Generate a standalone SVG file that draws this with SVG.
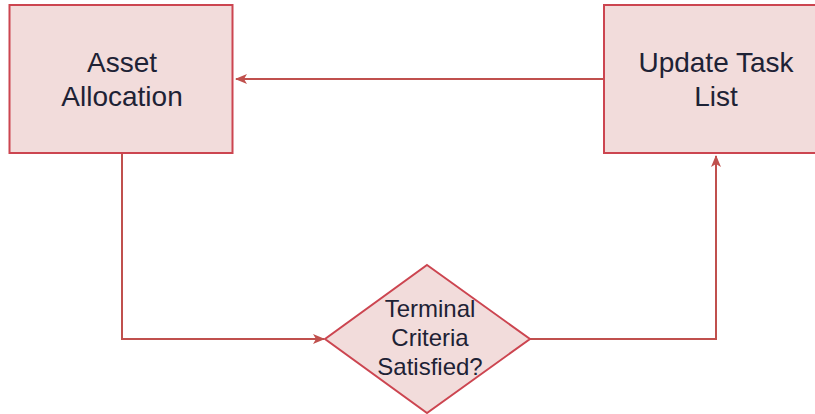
<svg xmlns="http://www.w3.org/2000/svg" width="815" height="414" viewBox="0 0 815 414">
<style>
.node{fill:#f2dcdb;stroke:#cc4550;stroke-width:2}
.lbl{font-family:"Liberation Sans",Arial,sans-serif;fill:#1e2235;text-anchor:middle}
.big{font-size:28px}
.small{font-size:24px}
.edge{fill:none;stroke:#c0504d;stroke-width:2}
</style>
<defs>
<marker id="arr" viewBox="0 0 12 10" refX="11" refY="5" markerWidth="12" markerHeight="10" markerUnits="userSpaceOnUse" orient="auto">
<path d="M0,0 L12,5 L0,10 L3,5 Z" fill="#c0504d"/>
</marker>
</defs>
<rect width="815" height="414" fill="#ffffff"/>
<g id="connectors">
<path class="edge" d="M604,79 L236,79" marker-end="url(#arr)"/>
<path class="edge" d="M122,153 L122,339 L324,339" marker-end="url(#arr)"/>
<path class="edge" d="M530,339 L716,339 L716,156" marker-end="url(#arr)"/>
</g>
<g id="asset-allocation">
<rect class="node" x="9.5" y="5" width="223" height="148"/>
<text class="lbl big" x="122" y="72">Asset</text>
<text class="lbl big" x="122" y="106">Allocation</text>
</g>
<g id="update-task-list">
<rect class="node" x="604" y="5" width="224" height="148"/>
<text class="lbl big" x="716" y="72">Update Task</text>
<text class="lbl big" x="716" y="106">List</text>
</g>
<g id="terminal-criteria">
<polygon class="node" points="427,265 530,339 427,413 325,339" stroke-width="1.5"/>
<text class="lbl small" x="430" y="317">Terminal</text>
<text class="lbl small" x="430" y="346">Criteria</text>
<text class="lbl small" x="430" y="375">Satisfied?</text>
</g>
</svg>
